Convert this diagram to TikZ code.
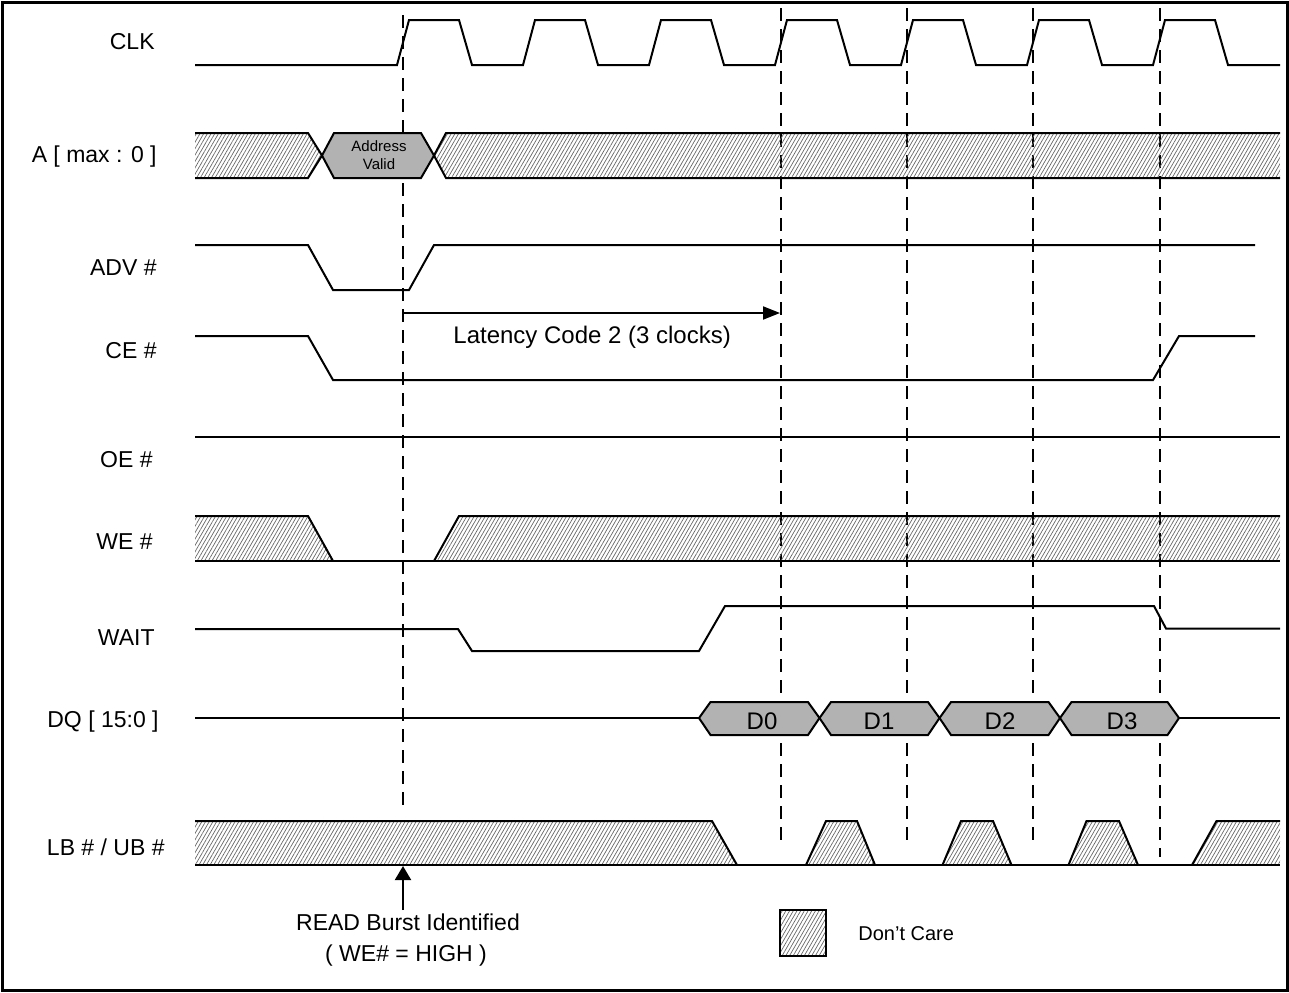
\documentclass[tikz,border=0pt]{standalone}
\usepackage{fontspec}
\setmainfont{Liberation Sans}
\usetikzlibrary{arrows.meta,patterns.meta}
\begin{document}
\begin{tikzpicture}[x=0.5pt,y=-0.5pt,
  sig/.style={line width=1pt, line join=miter},
  hatch/.style={pattern={Lines[angle=60,distance=1.6pt,line width=0.35pt]},pattern color=black!60},
  busfill/.style={fill=black!30},
  lbl/.style={anchor=base east, inner sep=0pt, font=\fontsize{11.5}{13}\selectfont},
  dlbl/.style={anchor=base, inner sep=0pt, font=\fontsize{12}{14}\selectfont},
  guide/.style={line width=1pt, dash pattern=on 6.5pt off 4pt},
  ]
\useasboundingbox (0,0) rectangle (1289,992);
\draw[line width=1.5pt] (2,2) rectangle (1287,990);

% signal labels
\node[lbl] (lclk)  at (155,49.5) {CLK};
\node[lbl] (laddr) at (157,162) {A [ max : 0 ]};
\node[lbl] (ladv)  at (157,275) {ADV \#};
\node[lbl] (lce)   at (157,358) {CE \#};
\node[lbl] (loe)   at (153,467) {OE \#};
\node[lbl] (lwe)   at (153,549) {WE \#};
\node[lbl] (lwait) at (155,645) {WAIT};
\node[lbl] (ldq)   at (159,727) {DQ [ 15:0 ]};
\node[lbl] (llb)   at (165,855) {LB \# / UB \#};

% dashed guide lines
\coordinate (g0t) at (403,15);  \coordinate (g0b) at (403,811);
\coordinate (g1t) at (781,8);   \coordinate (g1b) at (781,847);
\coordinate (g2t) at (907,8);   \coordinate (g2b) at (907,847);
\coordinate (g3t) at (1033,8);  \coordinate (g3b) at (1033,847);
\coordinate (g4t) at (1160,8);  \coordinate (g4b) at (1160,857);
\foreach \g in {0,...,4} {\draw[guide] (g\g t) -- (g\g b);}

% CLK
\draw[sig] (195,65) \foreach \k in {0,...,6} {
  -- ({397+126*\k},65) -- ({409+126*\k},20) -- ({459+126*\k},20) -- ({472+126*\k},65)} -- (1280,65);

% A [max:0]
\fill[hatch] (195,133) -- (308,133) -- (322,155.5) -- (308,178) -- (195,178) -- cycle;
\draw[sig] (195,133) -- (308,133) -- (322,155.5) -- (308,178) -- (195,178);
\draw[sig,busfill] (322,155.5) -- (334,133) -- (421,133) -- (434,155.5) -- (421,178) -- (334,178) -- cycle;
\node[inner sep=0pt, align=center, font=\fontsize{7.5}{9}\selectfont, anchor=base] (addrv) at (379,169) {Address\\Valid};
\fill[hatch] (434,155.5) -- (446,133) -- (1280,133) -- (1280,178) -- (446,178) -- cycle;
\draw[sig] (1280,133) -- (446,133) -- (434,155.5) -- (446,178) -- (1280,178);

% ADV#
\draw[sig] (195,245) -- (308,245) -- (333,290) -- (409,290) -- (434,245) -- (1255,245);

% latency arrow
\coordinate (latA) at (403,313);
\coordinate (latB) at (780,313);
\draw[line width=1pt,-{Triangle[length=8.5pt,width=6.5pt]}] (latA) -- (latB);
\node[anchor=base west, inner sep=0pt, font=\fontsize{12}{14}\selectfont] (lat) at (453,343) {Latency Code 2 (3 clocks)};

% CE#
\draw[sig] (195,336) -- (308,336) -- (333,380) -- (1153,380) -- (1179,336) -- (1255,336);

% OE#
\draw[sig] (195,437) -- (1280,437);

% WE#
\fill[hatch] (195,516) -- (308,516) -- (333,561) -- (195,561) -- cycle;
\draw[sig] (195,516) -- (308,516) -- (333,561);
\fill[hatch] (434,561) -- (459,516) -- (1280,516) -- (1280,561) -- cycle;
\draw[sig] (434,561) -- (459,516) -- (1280,516);
\draw[sig] (195,561) -- (1280,561);

% WAIT
\draw[sig] (195,629) -- (458,629) -- (472,651) -- (699,651) -- (725,606) -- (1154,606) -- (1166,628.5) -- (1280,628.5);

% DQ
\draw[sig] (195,718) -- (699,718);
\foreach \a/\b/\t/\tx in {699/819.5/D0/762, 819.5/939.5/D1/879, 939.5/1060/D2/1000, 1060/1179/D3/1122} {
  \draw[sig,busfill] (\a,718) -- ({\a+11.5},702) -- ({\b-11.5},702) -- (\b,718) -- ({\b-11.5},735) -- ({\a+11.5},735) -- cycle;
  \node[dlbl] (d\t) at (\tx,729) {\t};
}
\draw[sig] (1179,718) -- (1280,718);

% LB#/UB#
\fill[hatch] (195,821) -- (712,821) -- (737,865) -- (195,865) -- cycle;
\draw[sig] (195,821) -- (712,821) -- (737,865);
\foreach \p/\q/\r/\s in {806/826/857/875, 942.5/961/993/1011.5, 1068.5/1086.5/1119/1138} {
  \fill[hatch] (\p,865) -- (\q,821) -- (\r,821) -- (\s,865) -- cycle;
  \draw[sig] (\p,865) -- (\q,821) -- (\r,821) -- (\s,865);
}
\fill[hatch] (1192,865) -- (1216.5,821) -- (1280,821) -- (1280,865) -- cycle;
\draw[sig] (1192,865) -- (1216.5,821) -- (1280,821);
\draw[sig] (195,865) -- (1280,865);

% READ burst arrow
\coordinate (rbA) at (403,910);
\coordinate (rbB) at (403,866);
\draw[line width=1pt,-{Triangle[length=7pt,width=8pt]}] (rbA) -- (rbB);
\node[anchor=base, inner sep=0pt, font=\fontsize{11.5}{13}\selectfont] (rb1) at (408,930) {READ Burst Identified};
\node[anchor=base, inner sep=0pt, font=\fontsize{11.5}{13}\selectfont] (rb2) at (406,961.5) {( WE\# = HIGH )};

% legend
\node[draw, line width=1pt, hatch, minimum width=23pt, minimum height=23pt, inner sep=0pt] (legbox) at (803,933) {};
\node[anchor=base west, inner sep=0pt, font=\fontsize{10}{12}\selectfont] (legtxt) at (858,940) {Don’t Care};
\end{tikzpicture}
\end{document}
